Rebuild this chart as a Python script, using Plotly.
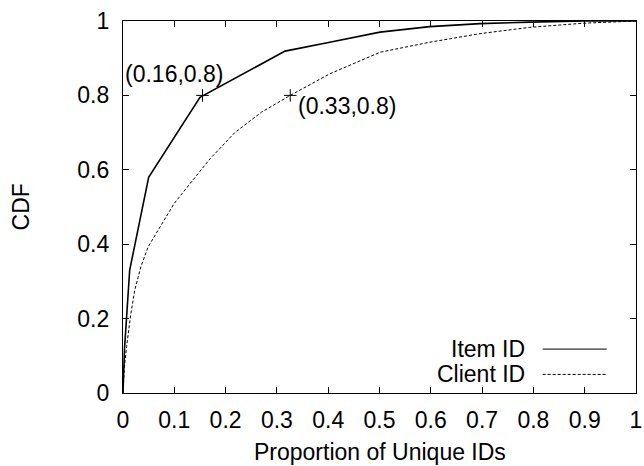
import plotly.graph_objects as go

# Item ID CDF (solid)
item_x = [0, 0.003, 0.013, 0.05, 0.15, 0.316, 0.403, 0.501, 0.598, 0.696, 0.793, 0.9, 1.0]
item_y = [0, 0.12, 0.33, 0.58, 0.795, 0.919, 0.943, 0.970, 0.985, 0.993, 0.997, 1.0, 1.0]

# Client ID CDF (dashed)
client_x = [0, 0.002, 0.007, 0.015, 0.023, 0.035, 0.049, 0.065, 0.081, 0.1, 0.136, 0.17,
            0.218, 0.27, 0.326, 0.403, 0.501, 0.598, 0.696, 0.793, 0.897, 1.0]
client_y = [0, 0.06, 0.125, 0.21, 0.277, 0.34, 0.393, 0.43, 0.465, 0.51, 0.572, 0.63,
            0.7, 0.755, 0.8, 0.858, 0.916, 0.943, 0.966, 0.983, 0.994, 1.0]

# Highlighted points
mark_x = [0.155, 0.326]
mark_y = [0.8, 0.8]
mark_labels = ["(0.16,0.8)", "(0.33,0.8)"]

series_names = ["Item ID", "Client ID"]

x_ticks = [0, 0.1, 0.2, 0.3, 0.4, 0.5, 0.6, 0.7, 0.8, 0.9, 1]
x_ticktext = ["0", "0.1", "0.2", "0.3", "0.4", "0.5", "0.6", "0.7", "0.8", "0.9", "1"]
y_ticks = [0, 0.2, 0.4, 0.6, 0.8, 1]
y_ticktext = ["0", "0.2", "0.4", "0.6", "0.8", "1"]

FONT = "Liberation Sans, Arial, sans-serif"
FS = 23

fig = go.Figure()
fig.add_trace(go.Scatter(x=item_x, y=item_y, mode="lines",
                         line=dict(color="black", width=1.6), showlegend=False))
fig.add_trace(go.Scatter(x=client_x, y=client_y, mode="lines",
                         line=dict(color="black", width=1, dash="3px,2px"), showlegend=False))
fig.add_trace(go.Scatter(x=mark_x, y=mark_y, mode="markers",
                         marker=dict(symbol="cross-thin", size=9,
                                     line=dict(color="black", width=1)),
                         showlegend=False))

# point labels
fig.add_annotation(x=0.1, y=0.857, text=mark_labels[0], showarrow=False,
                   xanchor="center", yanchor="middle", font=dict(size=FS, family=FONT, color="black"))
fig.add_annotation(x=0.338, y=0.772, text=mark_labels[1], showarrow=False,
                   xanchor="left", yanchor="middle", font=dict(size=FS, family=FONT, color="black"))

# gnuplot-style legend: text on the left, sample on the right
leg_rows = [0.118, 0.050]
dashes = ["solid", "3px,2px"]
widths = [1, 1]
for name, yy, d, w in zip(series_names, leg_rows, dashes, widths):
    fig.add_annotation(xref="paper", yref="paper", x=0.787, y=yy, text=name, showarrow=False,
                       xanchor="right", yanchor="middle",
                       font=dict(size=FS, family=FONT, color="black"))
    fig.add_shape(type="line", xref="paper", yref="paper", x0=0.818, x1=0.943, y0=yy, y1=yy,
                  line=dict(color="black", width=w, dash=d))

# axis titles
fig.add_annotation(xref="paper", yref="paper", x=0.5, y=-0.159, text="Proportion of Unique IDs",
                   showarrow=False, xanchor="center", yanchor="middle",
                   font=dict(size=FS, family=FONT, color="black"))
fig.add_annotation(xref="paper", yref="paper", x=-0.198, y=0.5, text="CDF", textangle=-90,
                   showarrow=False, xanchor="center", yanchor="middle",
                   font=dict(size=FS, family=FONT, color="black"))

axis_common = dict(showline=True, linecolor="black", linewidth=1.2, mirror="ticks",
                   ticks="inside", ticklen=6, tickcolor="black", tickwidth=1,
                   showgrid=False, zeroline=False,
                   tickfont=dict(size=FS, family=FONT, color="black"))

fig.update_xaxes(range=[0, 1], tickvals=x_ticks, ticktext=x_ticktext,
                 ticklabelstandoff=6, **axis_common)
fig.update_yaxes(range=[0, 1], tickvals=y_ticks, ticktext=y_ticktext,
                 ticklabelstandoff=8, **axis_common)

fig.update_layout(width=644, height=466, margin=dict(l=123, r=8, t=21, b=73, autoexpand=False),
                  plot_bgcolor="white", paper_bgcolor="white",
                  font=dict(family=FONT, size=FS, color="black"))

fig.write_html("out.html")
